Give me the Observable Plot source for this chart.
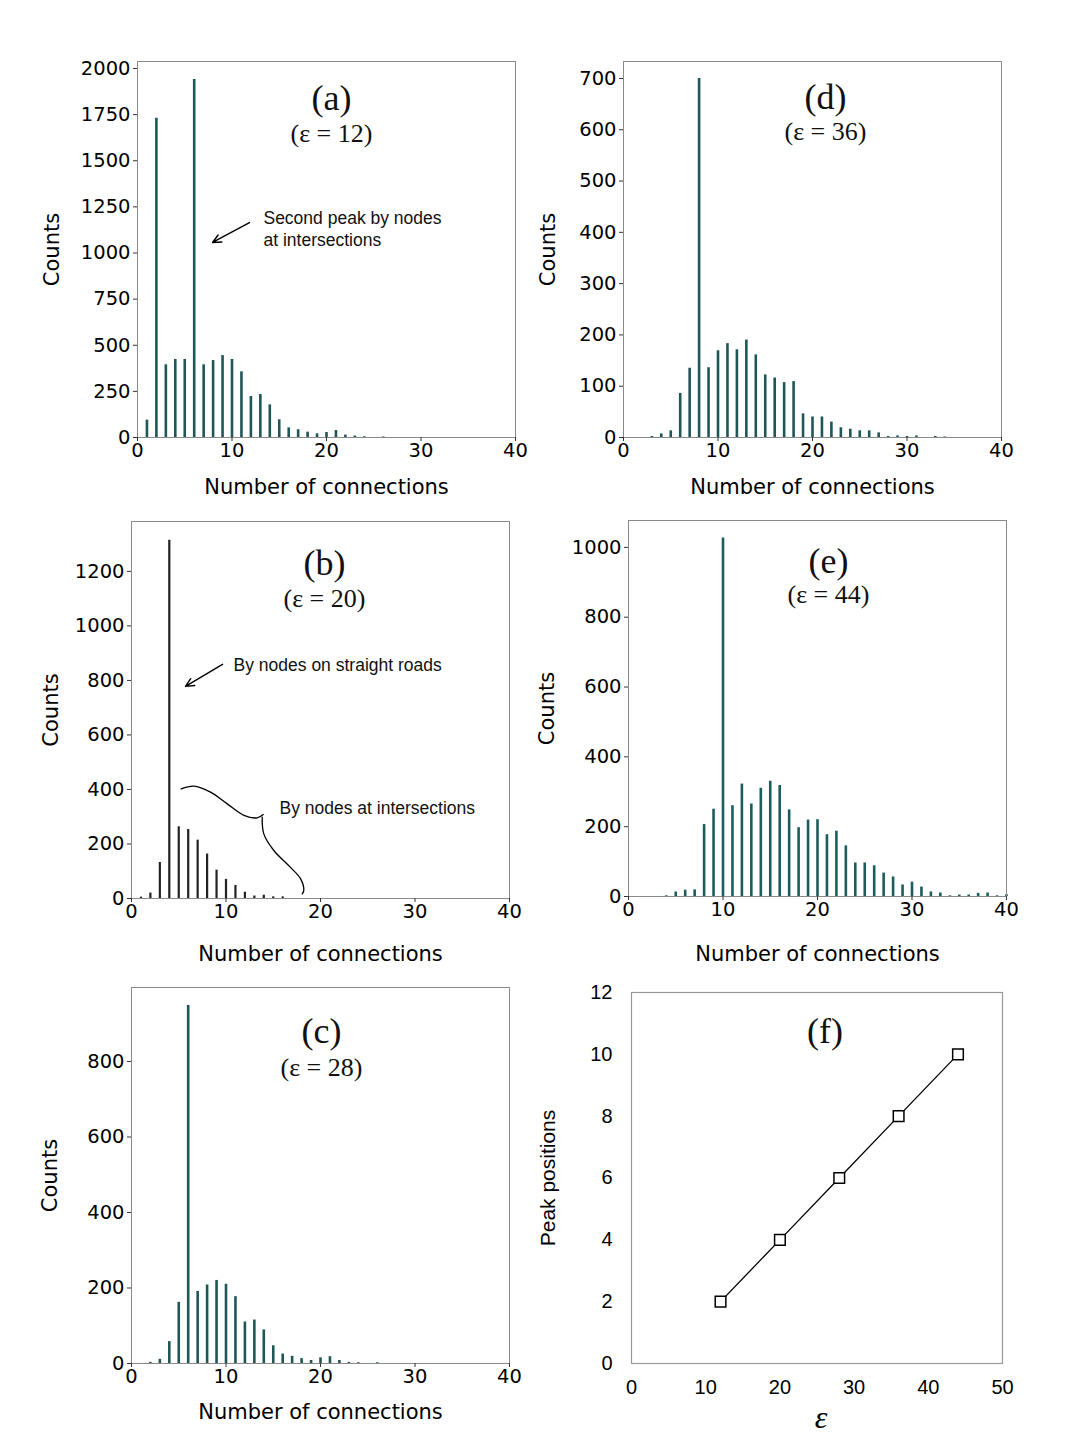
<!DOCTYPE html>
<html><head><meta charset="utf-8">
<script src="https://cdn.jsdelivr.net/npm/d3@7"></script>
<script src="https://cdn.jsdelivr.net/npm/@observablehq/plot@0.6"></script>
<style>
body{margin:0;background:#fff;}
#wrap{position:relative;width:1080px;height:1439px;background:#fff;}
#wrap svg{position:absolute;overflow:visible;}
</style></head><body><div id="wrap"></div>
<script>
// ---------- data ----------
const connA = [1,2,3,4,5,6,7,8,9,10,11,12,13,14,15,16,17,18,19,20,21,22,23,24,26];
const countsA = [94,1730,394,423,423,1940,394,417,444,423,356,222,233,177,96,52,42,29,20,27,38,13,8,4,3];

const connB = [1,2,3,4,5,6,7,8,9,10,11,12,13,14,15,16];
const countsB = [5,20,132,1314,263,253,214,163,104,70,48,23,9,12,6,6];

const connC = [2,3,4,5,6,7,8,9,10,11,12,13,14,15,16,17,18,19,20,21,22,23,24,26];
const countsC = [3,11,58,162,948,191,208,220,210,177,110,115,89,47,25,19,13,8,15,18,8,3,2,2];

const connD = [3,4,5,6,7,8,9,10,11,12,13,14,15,16,17,18,19,20,21,22,23,24,25,26,27,28,29,30,31,33,34];
const countsD = [2,7,13,86,135,700,136,169,183,171,190,161,122,116,107,109,46,40,40,30,19,16,13,13,9,2,3,2,3,2,1];

const connE = [4,5,6,7,8,9,10,11,12,13,14,15,16,17,18,19,20,21,22,23,24,25,26,27,28,29,30,31,32,33,34,35,36,37,38,39,40];
const countsE = [2,13,18,19,206,250,1027,260,322,265,310,330,318,248,197,219,220,177,187,145,96,96,88,67,56,33,41,27,13,10,2,4,4,9,10,2,5];

const epsF = [12,20,28,36,44];
const peakF = [2,4,6,8,10];

const xTicks = [0,10,20,30,40];
const yTicksA = [0,250,500,750,1000,1250,1500,1750,2000];
const yTicksB = [0,200,400,600,800,1000,1200];
const yTicksC = [0,200,400,600,800];
const yTicksD = [0,100,200,300,400,500,600,700];
const yTicksE = [0,200,400,600,800,1000];
const xTicksF = [0,10,20,30,40,50];
const yTicksF = [0,2,4,6,8,10,12];

// annotations (data coordinates)
const noteA = "Second peak by nodes\nat intersections";
const noteB1 = "By nodes on straight roads";
const noteB2 = "By nodes at intersections";
const braceL = [[5.26,402],[6.6,412],[8.36,390],[10.1,348],[11.9,305],[13.3,296],[13.94,308]];
const braceR = [[13.83,298],[14.0,237],[15.06,176],[16.8,115],[17.9,72],[18.23,29],[18.06,17]];

// ---------- layout ----------
const wrap = document.getElementById("wrap");
const ML = 110, MR = 30, MT = 20, MB = 80;
const fmt = d3.format("d");

function place(svg, x0, y0) {
  svg.style.left = (x0 - ML) + "px";
  svg.style.top = (y0 - MT) + "px";
  wrap.appendChild(svg);
}

function arrowMarks(x1, y1, x2, y2) {
  return [
    Plot.arrow({length: 1}, {x1: () => x1, y1: () => y1, x2: () => x2, y2: () => y2,
      stroke: "#000", strokeWidth: 1.4, headLength: 10, headAngle: 50})
  ];
}

function hist(o) {
  const [x0, x1, y0, y1] = o.frame;
  const data = o.conn.map((c, i) => ({c, n: o.counts[i]}));
  const marks = [
    Plot.ruleX(data, {x: "c", y1: 0, y2: "n", stroke: o.color, strokeWidth: o.bw || 2.6}),
    Plot.frame({stroke: "#8a8a8a", strokeWidth: 1}),
    Plot.axisX({ticks: xTicks, tickFormat: fmt, tickSize: 4, tickPadding: 2, label: null, stroke: "#333"}),
    Plot.axisY({ticks: o.yTicks, tickFormat: fmt, tickSize: 4, tickPadding: 3, label: null, stroke: "#333"}),
    Plot.text([o.title], {frameAnchor: "top", dy: o.tdy, dx: o.tdx, lineAnchor: "middle", textAnchor: "middle",
      fontSize: 36, fontFamily: "Liberation Serif", fill: "#111"}),
    Plot.text([o.sub], {frameAnchor: "top", dy: o.sdy, dx: o.tdx, lineAnchor: "middle", textAnchor: "middle",
      fontSize: 26, fontFamily: "Liberation Serif", fill: "#111"}),
    Plot.text(["Counts"], {frameAnchor: "left", rotate: -90, dx: o.cdx, textAnchor: "middle", lineAnchor: "middle", fontSize: 21}),
    Plot.text(["Number of connections"], {frameAnchor: "bottom", dy: o.ldy, textAnchor: "middle", lineAnchor: "middle", fontSize: 21}),
    ...(o.extra || [])
  ];
  const svg = Plot.plot({
    width: x1 - x0 + ML + MR, height: y1 - y0 + MT + MB,
    marginLeft: ML, marginRight: MR, marginTop: MT, marginBottom: MB,
    x: {domain: [0, 40]}, y: {domain: [0, o.yMax]},
    style: {fontFamily: "DejaVu Sans", fontSize: "19.5px", color: "#000", background: "transparent", overflow: "visible"},
    marks
  });
  place(svg, x0, y0);
}

const annFont = {fontFamily: "Liberation Sans", fontSize: 17.5, fill: "#111"};

// (a)
hist({frame: [137, 515, 61, 437], conn: connA, counts: countsA, yMax: 2038, yTicks: yTicksA,
  color: "#1f5656", title: "(a)", sub: "(ε = 12)", tdx: 5, tdy: 37, sdy: 72, cdx: -85, ldy: 50,
  extra: [
    ...arrowMarks(11.85, 1165, 7.94, 1057),
    Plot.text([noteA], {x: () => 13.33, y: () => 1138, textAnchor: "start", lineAnchor: "middle", lineHeight: 1.26, ...annFont})
  ]});

// (d)
hist({frame: [623, 1001, 61, 437], conn: connD, counts: countsD, yMax: 733, yTicks: yTicksD,
  color: "#1f5656", title: "(d)", sub: "(ε = 36)", tdx: 13, tdy: 36, sdy: 70, cdx: -75, ldy: 50});

// (b)
hist({frame: [131, 509, 521, 898], conn: connB, counts: countsB, yMax: 1383, yTicks: yTicksB,
  color: "#222", bw: 2.2, title: "(b)", sub: "(ε = 20)", tdx: 4, tdy: 42, sdy: 77, cdx: -80, ldy: 56,
  extra: [
    ...arrowMarks(9.63, 859, 5.71, 778),
    Plot.text([noteB1], {x: () => 10.8, y: () => 855, textAnchor: "start", lineAnchor: "middle", ...annFont}),
    Plot.text([noteB2], {x: () => 15.66, y: () => 330, textAnchor: "start", lineAnchor: "middle", ...annFont}),
    Plot.line(braceL, {x: d => d[0], y: d => d[1], curve: "catmull-rom", stroke: "#000", strokeWidth: 1.3}),
    Plot.line(braceR, {x: d => d[0], y: d => d[1], curve: "catmull-rom", stroke: "#000", strokeWidth: 1.3})
  ]});

// (e)
hist({frame: [628, 1006, 520, 896], conn: connE, counts: countsE, yMax: 1077, yTicks: yTicksE,
  color: "#1d5c5c", title: "(e)", sub: "(ε = 44)", tdx: 11, tdy: 41, sdy: 74, cdx: -81, ldy: 58});

// (c)
hist({frame: [131, 509, 987, 1363], conn: connC, counts: countsC, yMax: 996, yTicks: yTicksC,
  color: "#1f5656", title: "(c)", sub: "(ε = 28)", tdx: 1, tdy: 44, sdy: 80, cdx: -81, ldy: 49});

// (f)
{
  const x0 = 631, x1 = 1002, y0 = 992, y1 = 1363;
  const pts = epsF.map((e, i) => ({e, p: peakF[i]}));
  const svg = Plot.plot({
    width: x1 - x0 + ML + MR, height: y1 - y0 + MT + MB,
    marginLeft: ML, marginRight: MR, marginTop: MT, marginBottom: MB,
    x: {domain: [0, 50]}, y: {domain: [0, 12]},
    style: {fontFamily: "Liberation Sans", fontSize: "20px", color: "#000", background: "transparent", overflow: "visible"},
    marks: [
      Plot.frame({stroke: "#999", strokeWidth: 1.2}),
      Plot.axisX({ticks: xTicksF, tickFormat: fmt, tickSize: 0, tickPadding: 16, label: null}),
      Plot.axisY({ticks: yTicksF, tickFormat: fmt, tickSize: 0, tickPadding: 19, label: null}),
      Plot.line(pts, {x: "e", y: "p", stroke: "#000", strokeWidth: 1.3}),
      Plot.dot(pts, {x: "e", y: "p", symbol: "square", r: 6, fill: "#fff", stroke: "#000", strokeWidth: 1.5}),
      Plot.text(["(f)"], {frameAnchor: "top", dy: 39, dx: 8, lineAnchor: "middle", fontSize: 36, fontFamily: "Liberation Serif", fill: "#111"}),
      Plot.text(["Peak positions"], {frameAnchor: "left", rotate: -90, dx: -83, textAnchor: "middle", lineAnchor: "middle", fontSize: 21}),
      Plot.text(["ε"], {frameAnchor: "bottom", dy: 54, dx: 4, textAnchor: "middle", lineAnchor: "middle", fontSize: 32, fontStyle: "italic", fontFamily: "Liberation Serif"})
    ]
  });
  place(svg, x0, y0);
}
</script></body></html>
